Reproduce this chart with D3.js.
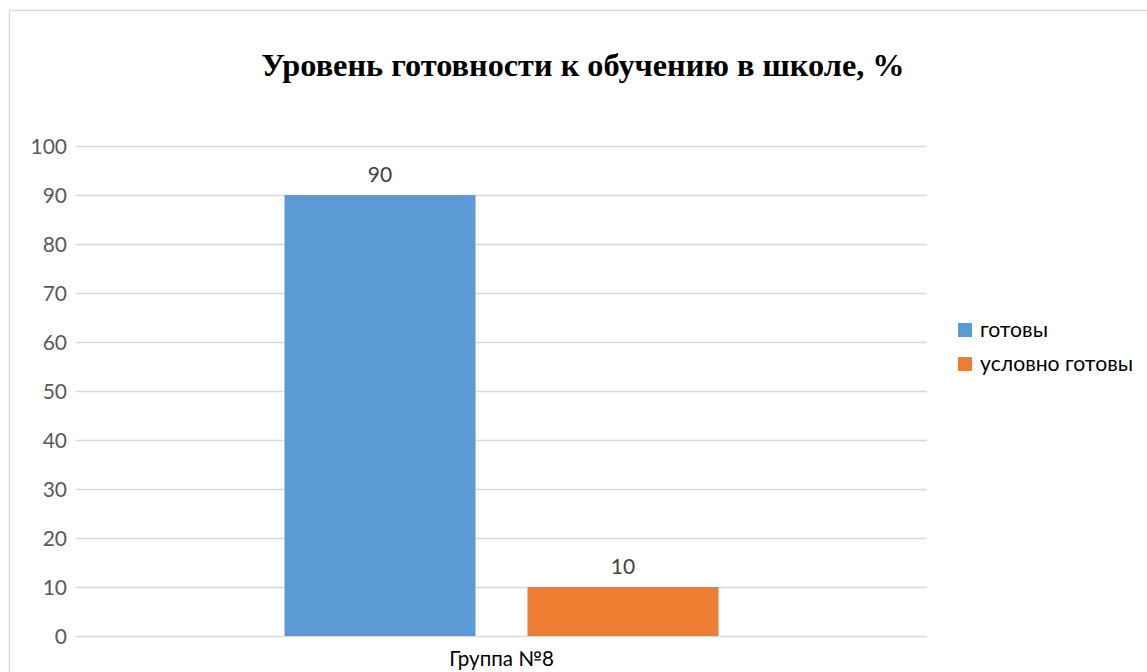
<!DOCTYPE html>
<html><head><meta charset="utf-8">
<script src="https://cdn.jsdelivr.net/npm/d3@7"></script>
<style>body{margin:0;background:#fff}svg{display:block}</style>
</head><body>
<svg id="c" width="1147" height="672"></svg>
<script>
const title = "Уровень готовности к обучению в школе, %";
const categories = ["Группа №8"];
const seriesNames = ["готовы", "условно готовы"];
const seriesValues = [[90], [10]];
const colors = ["#5b9bd5", "#ed7d31"];
const yTicks = [0,10,20,30,40,50,60,70,80,90,100];

(function(){
const svg = d3.select("#c");
const W = 1147, H = 672;
const pL = 76, pR = 927, pT = 146, pB = 636;
const axisFont = "Lato, 'Open Sans', sans-serif";

svg.append("rect").attr("x",9.5).attr("y",10.5).attr("width",W+20).attr("height",H+20)
  .attr("fill","#fff").attr("stroke","#d9d9d9").attr("stroke-width",1.3);

const y = d3.scaleLinear().domain([0,100]).range([pB, pT]);
const x0 = d3.scaleBand().domain(categories).range([pL, pR]).paddingInner(0).paddingOuter(0.4804);
const x1 = d3.scaleBand().domain(seriesNames).range([0, x0.bandwidth()]).paddingInner(0.214).paddingOuter(0);

const yAxis = d3.axisLeft(y).tickValues(yTicks).tickSize(-(pR-pL)).tickPadding(9);
const gy = svg.append("g").attr("transform",`translate(${pL},0)`).call(yAxis);
gy.select(".domain").remove();
gy.selectAll(".tick line").attr("stroke","#d9d9d9").attr("stroke-width",1.3);
gy.selectAll(".tick text").attr("fill","#595959").attr("font-family",axisFont).attr("font-size",21).attr("dy","0.36em");

const g = svg.append("g");
categories.forEach((c, ci) => {
  seriesNames.forEach((s, si) => {
    const v = seriesValues[si][ci];
    const bx = x0(c) + x1(s);
    g.append("rect").attr("x", bx).attr("y", y(v)).attr("width", x1.bandwidth())
      .attr("height", y(0)-y(v)).attr("fill", colors[si]);
    g.append("text").attr("x", bx + x1.bandwidth()/2).attr("y", y(v) - 13)
      .attr("text-anchor","middle").attr("font-family",axisFont).attr("font-size",21)
      .attr("fill","#404040").text(v);
  });
});

const xAxis = d3.axisBottom(x0).tickSize(0).tickPadding(15);
const gx = svg.append("g").attr("transform",`translate(0,${pB})`).call(xAxis);
gx.select(".domain").remove();
gx.selectAll(".tick text").attr("fill","#000").attr("font-family",axisFont).attr("font-size",20.5);

svg.append("text").attr("x", 583).attr("y", 76).attr("text-anchor","middle")
  .attr("font-family","'Liberation Serif','Times New Roman',serif").attr("font-weight","bold")
  .attr("font-size",32.3).attr("fill","#000").text(title);

const lg = svg.append("g");
seriesNames.forEach((s, i) => {
  const ly = 323 + i*34;
  lg.append("rect").attr("x",958).attr("y",ly).attr("width",14).attr("height",14).attr("fill",colors[i]);
  lg.append("text").attr("x",980).attr("y",ly+7).attr("dy","0.35em").attr("font-family",axisFont)
    .attr("font-size",21.2).attr("fill","#000").text(s);
});
})();
</script>
</body></html>
